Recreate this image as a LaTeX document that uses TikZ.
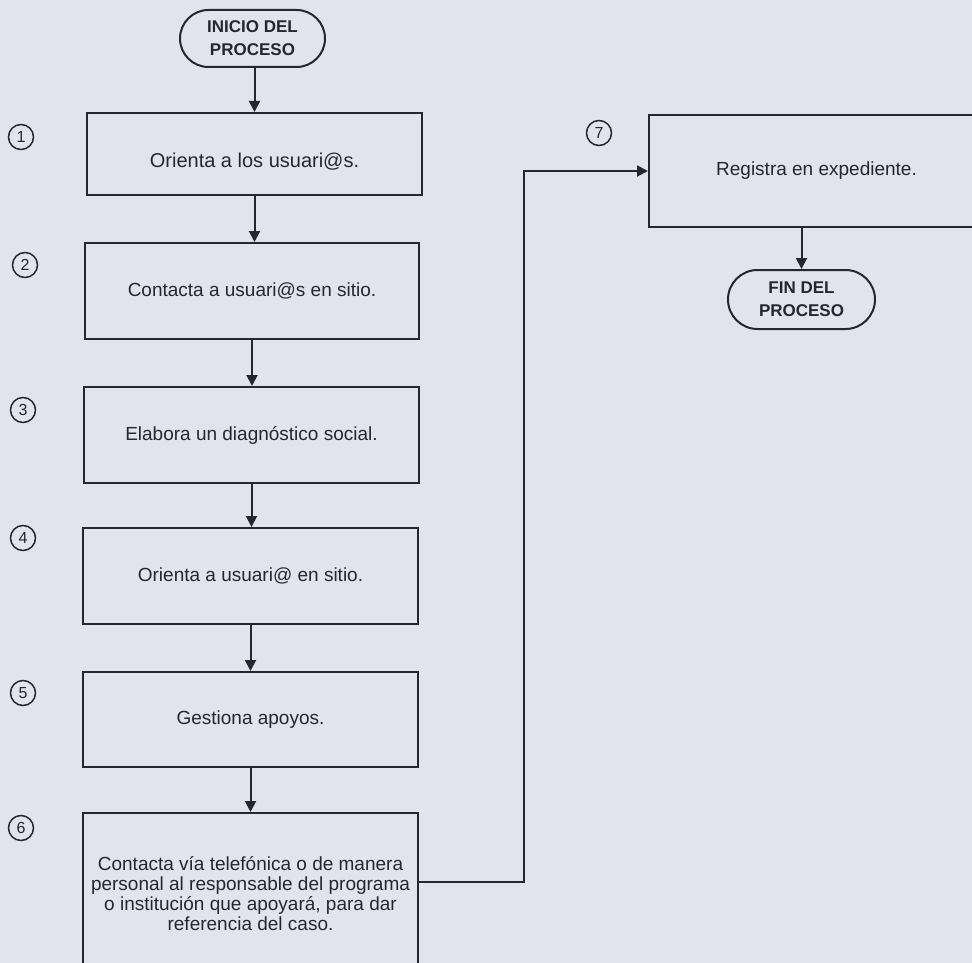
\documentclass[tikz,border=0pt]{standalone}
\usepackage{fontspec}
\setmainfont{Liberation Sans}
\usetikzlibrary{arrows.meta,shapes.misc}
\definecolor{bgc}{RGB}{226,227,239}
\definecolor{inkc}{RGB}{38,38,48}
\tikzset{
  box/.style={draw=inkc, line width=2pt, rectangle, inner sep=0pt, minimum width=335pt, align=center, text=inkc, font=\fontsize{19}{20}\selectfont},
  term/.style={draw=inkc, line width=2pt, rounded rectangle, inner sep=0pt, align=center, text=inkc, font=\fontsize{17}{23}\selectfont\bfseries},
  num/.style={draw=inkc, line width=1.5pt, circle, minimum size=25pt, inner sep=0pt, text=inkc, font=\fontsize{16}{16}\selectfont},
  arr/.style={draw=inkc, line width=2pt, -{Triangle[length=11pt,width=11pt]}}
}
\begin{document}
\begin{tikzpicture}[x=1pt,y=-1pt]
\fill[bgc] (0,0) rectangle (972,963);
\clip (0,0) rectangle (972,963);
\node[term, minimum width=145pt, minimum height=57pt] (s) at (252.5,38.5) {INICIO DEL\\PROCESO};
\node[box, minimum height=82pt, text height=27pt, text depth=0pt, font=\fontsize{20}{21}\selectfont] (b1) at (254.5,154) {Orienta a los usuari@s.};
\node[box, minimum width=334pt, minimum height=96pt] (b2) at (252,291) {Contacta a usuari@s en sitio.};
\node[box, minimum height=96pt] (b3) at (251.5,435) {Elabora un diagnóstico social.};
\node[box, minimum height=96pt] (b4) at (250.5,576) {Orienta a usuari@ en sitio.};
\node[box, minimum height=95pt] (b5) at (250.5,719.5) {Gestiona apoyos.};
\node[box, minimum height=162pt] (b6) at (250.5,894) {\raisebox{2pt}{\parbox{330pt}{\centering Contacta vía telefónica o de manera\\personal al responsable del programa\\o institución que apoyará, para dar\\referencia del caso.}}};
\node[box, minimum height=112pt] (b7) at (816.5,171) {Registra en expediente.};
\node[term, minimum width=147pt, minimum height=59pt] (e) at (801.5,299.5) {FIN DEL\\PROCESO};
\node[num] (n1) at (21,137) {1};
\node[num] (n2) at (25,265) {2};
\node[num] (n3) at (23,410) {3};
\node[num] (n4) at (23,538) {4};
\node[num] (n5) at (23,693) {5};
\node[num] (n6) at (21,828) {6};
\node[num] (n7) at (599,133) {7};
\draw[arr] (s.south -| b1.north) -- (b1.north);
\draw[arr] (b1.south) -- (b1.south |- b2.north);
\draw[arr] (b2.south) -- (b2.south |- b3.north);
\draw[arr] (b3.south) -- (b3.south |- b4.north);
\draw[arr] (b4.south) -- (b4.south |- b5.north);
\draw[arr] (b5.south) -- (b5.south |- b6.north);
\coordinate (j1) at (524,882);
\coordinate (j2) at (524,171);
\draw[arr] (b6.east |- j1) -- (j1) -- (j2) -- (b7.west);
\draw[arr] (b7.south -| e.north) -- (e.north);
\end{tikzpicture}
\end{document}
